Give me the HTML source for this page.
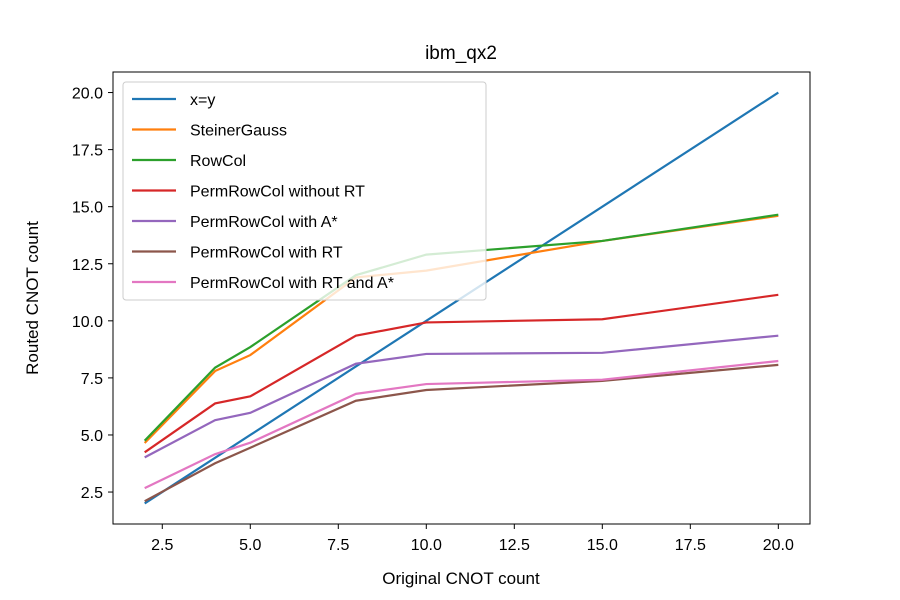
<!DOCTYPE html>
<html><head><meta charset="utf-8"><style>
body{margin:0;background:#fff}
svg{display:block;font-family:"Liberation Sans","DejaVu Sans",sans-serif}
</style></head><body>
<svg id="chart" width="900" height="600">
<rect width="900" height="600" fill="#fff"/>
<g id="grid"></g>
<g id="lines"></g>
<rect x="113" y="72" width="697" height="452" fill="none" stroke="#000" stroke-width="1"/>
<g id="ticks"></g>
<text x="461" y="59" text-anchor="middle" font-size="19">ibm_qx2</text>
<text x="461" y="584" text-anchor="middle" font-size="17">Original CNOT count</text>
<text transform="translate(38,298) rotate(-90)" text-anchor="middle" font-size="17">Routed CNOT count</text>
<g id="legend"></g>
</svg>
<script>
const xs = [2,4,5,8,10,15,20];
const names = ["x=y","SteinerGauss","RowCol","PermRowCol without RT","PermRowCol with A*","PermRowCol with RT","PermRowCol with RT and A*"];
const colors = ["#1f77b4","#ff7f0e","#2ca02c","#d62728","#9467bd","#8c564b","#e377c2"];
const sIdentity = [2,4,5,8,10,15,20];
const sSteiner = [4.65,7.8,8.5,11.9,12.2,13.5,14.6];
const sRowCol = [4.75,7.95,8.85,12.0,12.9,13.5,14.65];
const sNoRT = [4.24,6.38,6.69,9.35,9.93,10.07,11.14];
const sAstar = [4.02,5.65,5.97,8.12,8.55,8.6,9.35];
const sRT = [2.1,3.76,4.44,6.5,6.97,7.37,8.07];
const sRTA = [2.67,4.16,4.66,6.8,7.23,7.42,8.24];
const series = [sIdentity,sSteiner,sRowCol,sNoRT,sAstar,sRT,sRTA];
const xTicks = [2.5,5.0,7.5,10.0,12.5,15.0,17.5,20.0];
const yTicks = [2.5,5.0,7.5,10.0,12.5,15.0,17.5,20.0];
const NS="http://www.w3.org/2000/svg";
function X(v){return 113+(v-1.1)/(19.8)*697;}
function Y(v){return 524-(v-1.1)/(19.8)*452;}
const lg=document.getElementById('lines');
series.forEach((s,i)=>{
  const p=document.createElementNS(NS,'polyline');
  p.setAttribute('points',s.map((v,j)=>X(xs[j])+','+Y(v)).join(' '));
  p.setAttribute('fill','none');p.setAttribute('stroke',colors[i]);p.setAttribute('stroke-width','2.2');
  
  
  lg.appendChild(p);
});
const tg=document.getElementById('ticks');
xTicks.forEach(t=>{
  const l=document.createElementNS(NS,'line');
  l.setAttribute('x1',X(t));l.setAttribute('x2',X(t));l.setAttribute('y1',524);l.setAttribute('y2',529);l.setAttribute('stroke','#000');
  
  
  tg.appendChild(l);
  const tx=document.createElementNS(NS,'text');
  tx.setAttribute('x',X(t));tx.setAttribute('y',550);tx.setAttribute('text-anchor','middle');tx.setAttribute('font-size','16');
  tx.textContent=t.toFixed(1);
  
  
  tg.appendChild(tx);
});
yTicks.forEach(t=>{
  const l=document.createElementNS(NS,'line');
  l.setAttribute('x1',108);l.setAttribute('x2',113);l.setAttribute('y1',Y(t));l.setAttribute('y2',Y(t));l.setAttribute('stroke','#000');
  
  
  tg.appendChild(l);
  const tx=document.createElementNS(NS,'text');
  tx.setAttribute('x',103);tx.setAttribute('y',Y(t)+6);tx.setAttribute('text-anchor','end');tx.setAttribute('font-size','16');
  tx.textContent=t.toFixed(1);
  
  
  tg.appendChild(tx);
});
const leg=document.getElementById('legend');
const box=document.createElementNS(NS,'rect');
box.setAttribute('x',123);box.setAttribute('y',82);box.setAttribute('width',363);box.setAttribute('height',218);box.setAttribute('rx',3);
box.setAttribute('fill','rgba(255,255,255,0.8)');box.setAttribute('stroke','#ccc');


leg.appendChild(box);
names.forEach((n,i)=>{
  const y=99+i*30.5;
  const l=document.createElementNS(NS,'line');
  l.setAttribute('x1',132);l.setAttribute('x2',176);l.setAttribute('y1',y);l.setAttribute('y2',y);l.setAttribute('stroke',colors[i]);l.setAttribute('stroke-width','2.2');
  
  
  leg.appendChild(l);
  const tx=document.createElementNS(NS,'text');
  tx.setAttribute('x',190);tx.setAttribute('y',y+6);tx.setAttribute('font-size','16');
  tx.textContent=n;
  
  
  leg.appendChild(tx);
});
</script>
</body></html>
